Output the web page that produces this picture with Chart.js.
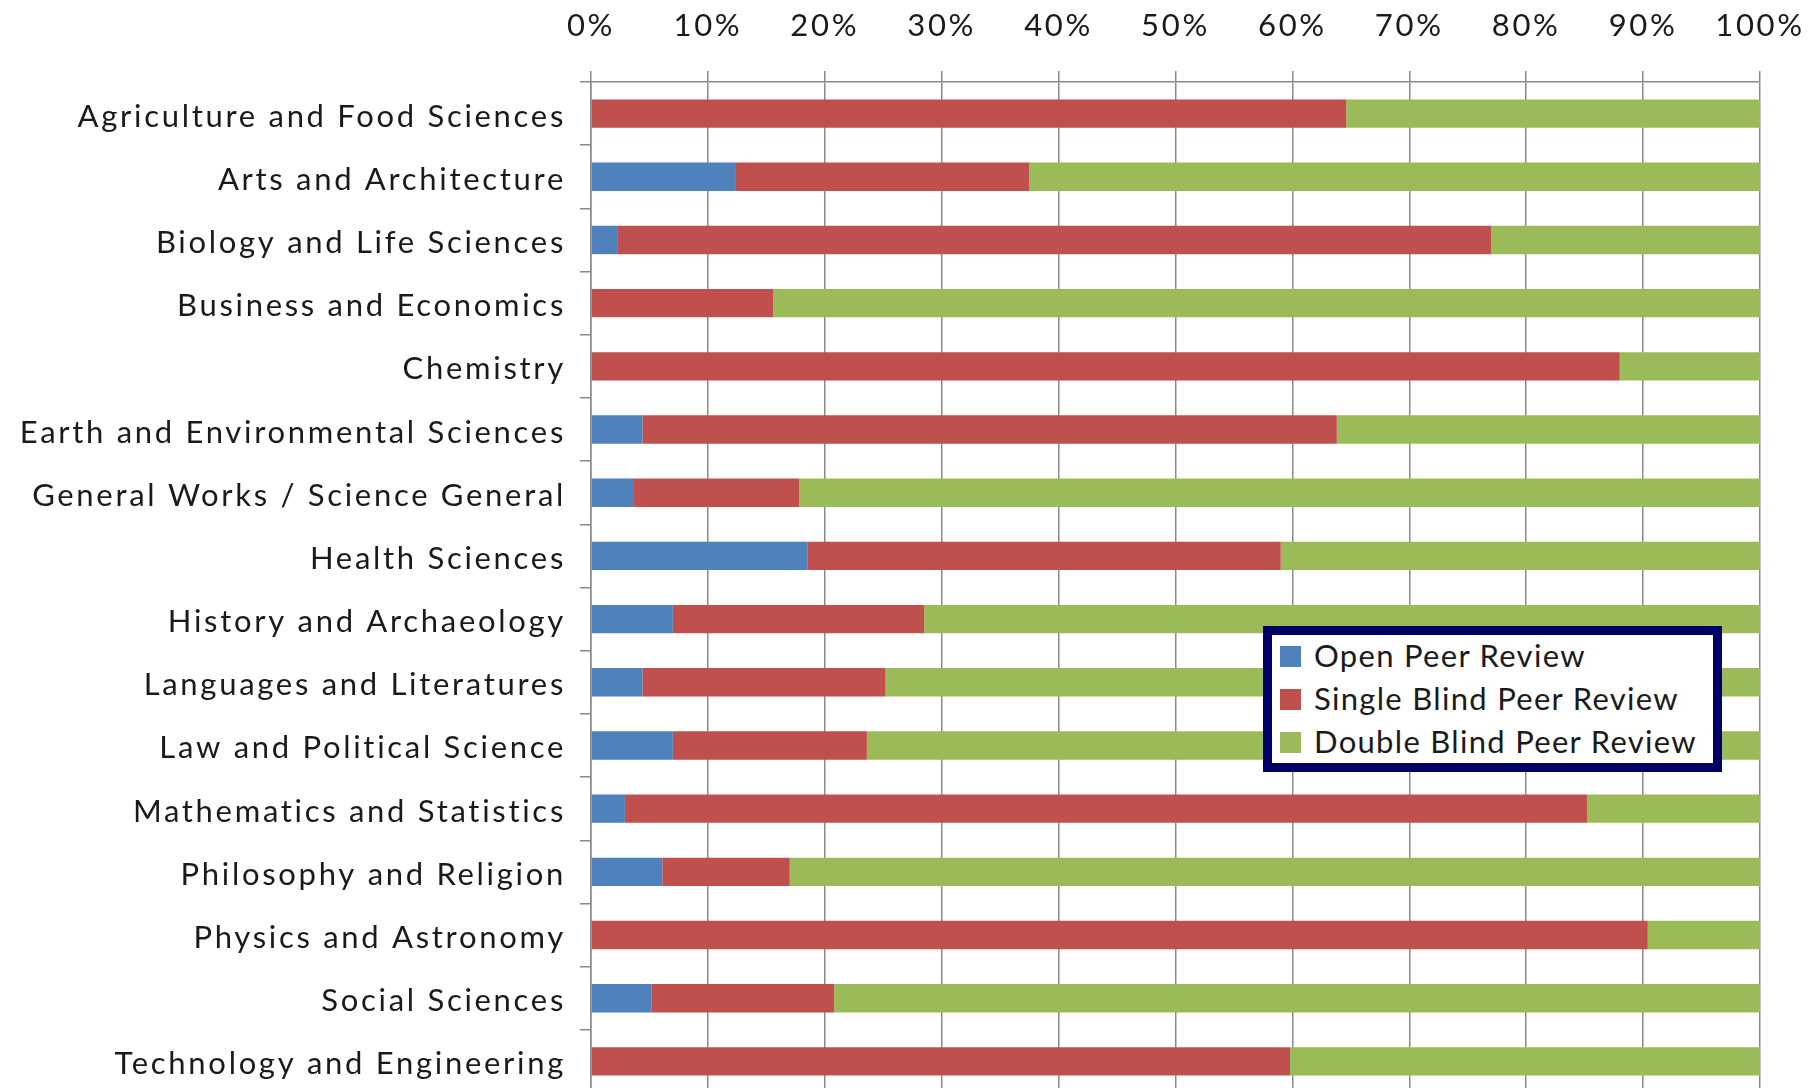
<!DOCTYPE html>
<html>
<head>
<meta charset="utf-8">
<script src="https://cdn.jsdelivr.net/npm/chart.js@4.4.1/dist/chart.umd.min.js"></script>
<style>
  html, body { margin: 0; padding: 0; background: #ffffff; overflow: hidden; }
  #wrap { position: relative; width: 1812px; height: 1100px; }
  #legend {
    position: absolute; left: 1263px; top: 626px; width: 441px; height: 128px;
    border: 9px solid #000066; background: #ffffff;
    font-family: Lato, "Open Sans", sans-serif; font-size: 31px; color: #1a1a1a;
  }
  .lg-row { position: relative; height: 43px; line-height: 43px; white-space: nowrap; }
  .lg-box { position: absolute; left: 8px; top: 11px; width: 21px; height: 21px; }
  .lg-text { position: absolute; left: 42px; top: -1px; letter-spacing: 1.3px; }
</style>
</head>
<body>
<div id="wrap">
  <canvas id="c" width="1812" height="1100"></canvas>
  <div id="legend"></div>
</div>
<script>
const categories = [
  "Agriculture and Food Sciences",
  "Arts and Architecture",
  "Biology and Life Sciences",
  "Business and Economics",
  "Chemistry",
  "Earth and Environmental Sciences",
  "General Works / Science General",
  "Health Sciences",
  "History and Archaeology",
  "Languages and Literatures",
  "Law and Political Science",
  "Mathematics and Statistics",
  "Philosophy and Religion",
  "Physics and Astronomy",
  "Social Sciences",
  "Technology and Engineering"
];
const seriesNames = ["Open Peer Review", "Single Blind Peer Review", "Double Blind Peer Review"];
const openPeer    = [0, 12.4, 2.3, 0, 0, 4.4, 3.6, 18.5, 7.0, 4.4, 7.0, 2.9, 6.1, 0, 5.2, 0];
const singleBlind = [64.6, 25.1, 74.7, 15.6, 88.0, 59.4, 14.2, 40.5, 21.5, 20.8, 16.6, 82.3, 10.9, 90.4, 15.6, 59.8];
const doubleBlind = [35.4, 62.5, 23.0, 84.4, 12.0, 36.2, 82.2, 41.0, 71.5, 74.8, 76.4, 14.8, 83.0, 9.6, 79.2, 40.2];
const xTicks = [0, 10, 20, 30, 40, 50, 60, 70, 80, 90, 100];
const seriesColors = ["#4F81BD", "#C0504D", "#9BBB59"];

const FONT = { family: "Lato, 'Open Sans', sans-serif", size: 31 };
const GRID = "#8a8a8a";

const spacing = {
  id: "spacing",
  beforeDraw(chart) { chart.ctx.letterSpacing = "2.7px"; }
};

function noPad(s) { s.paddingLeft = 0; s.paddingRight = 0; s.paddingTop = 0; s.paddingBottom = 0; }

const chart = new Chart(document.getElementById("c"), {
  type: "bar",
  data: {
    labels: categories,
    datasets: [openPeer, singleBlind, doubleBlind].map((d, i) => ({
      label: seriesNames[i],
      data: d,
      backgroundColor: seriesColors[i],
      borderWidth: 0,
      barPercentage: 0.45,
      categoryPercentage: 1.0
    }))
  },
  plugins: [spacing],
  options: {
    indexAxis: "y",
    responsive: false,
    animation: false,
    layout: { autoPadding: false, padding: { left: 0, right: 52, top: 0, bottom: 7 } },
    plugins: { legend: { display: false }, tooltip: { enabled: false } },
    scales: {
      x: {
        position: "top",
        stacked: true,
        min: 0, max: 100,
        afterBuildTicks(s) { s.ticks = xTicks.map(v => ({ value: v })); },
        afterFit(s) { s.height = 82; noPad(s); },
        ticks: { callback: v => v + "%", font: FONT, color: "#1a1a1a", padding: 26, maxRotation: 0 },
        grid: { color: GRID, lineWidth: 1.5, tickLength: 11 },
        border: { color: GRID, width: 1.5 }
      },
      y: {
        stacked: true,
        afterFit(s) { s.width = 591; noPad(s); },
        ticks: { font: FONT, color: "#1a1a1a", padding: 14, autoSkip: false, labelOffset: 3 },
        grid: { drawOnChartArea: false, color: GRID, lineWidth: 1.5, tickLength: 11, offset: true },
        border: { color: GRID, width: 1.5 }
      }
    }
  }
});

const lg = document.getElementById("legend");
chart.data.datasets.forEach(ds => {
  const row = document.createElement("div");
  row.className = "lg-row";
  const box = document.createElement("span");
  box.className = "lg-box";
  box.style.background = ds.backgroundColor;
  const txt = document.createElement("span");
  txt.className = "lg-text";
  txt.textContent = ds.label;
  row.appendChild(box); row.appendChild(txt);
  lg.appendChild(row);
});
</script>
</body>
</html>
